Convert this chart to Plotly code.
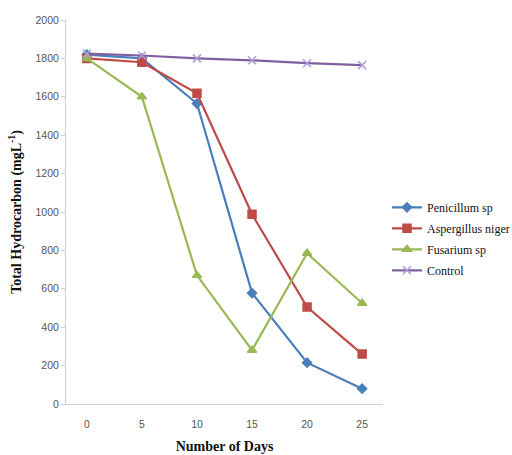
import plotly.graph_objects as go

days = ["0", "5", "10", "15", "20", "25"]
penicillium = [1820, 1800, 1565, 578, 215, 80]
aspergillus = [1800, 1780, 1618, 988, 505, 260]
fusarium = [1800, 1600, 670, 280, 785, 525]
control = [1825, 1815, 1800, 1790, 1775, 1765]
y_ticks = [0, 200, 400, 600, 800, 1000, 1200, 1400, 1600, 1800, 2000]

series = [
    ("Penicillum sp", penicillium, "#4a7ebb", "diamond", 7),
    ("Aspergillus niger", aspergillus, "#be4b48", "square", 8),
    ("Fusarium sp", fusarium, "#98b954", "triangle-up", 8),
    ("Control", control, "#7d60a0", "x-thin", 8),
]

serif = "Liberation Serif"

fig = go.Figure()
for name, vals, color, sym, size in series:
    fig.add_trace(go.Scatter(
        x=days, y=vals, name=name, mode="lines+markers", legendgroup=name,
        line=dict(color=color, width=2.2),
        marker=dict(symbol=sym, size=size, color=color,
                    line=dict(color="#a9a0d8" if sym == "x-thin" else color, width=1.5)),
    ))

fig.update_layout(
    width=512, height=455,
    margin=dict(l=66, r=129, t=20, b=51, autoexpand=False),
    paper_bgcolor="white", plot_bgcolor="white",
    font=dict(family=serif, size=12, color="#111"),
    showlegend=True,
    legend=dict(x=0.013, y=0.55, xanchor="left", yanchor="top", xref="paper",
                font=dict(family=serif, size=12, color="#111"),
                itemwidth=30, tracegroupgap=2, traceorder="grouped"),
    xaxis=dict(type="category", showgrid=False, showline=True, linecolor="#d0d0d0",
               linewidth=1, ticks="", ticklabelstandoff=10,
               tickfont=dict(family="Liberation Sans", size=10.5, color="#555"),
               title=dict(text="<b>Number of Days</b>", font=dict(family=serif, size=14, color="#111"),
                          standoff=12)),
    yaxis=dict(range=[0, 2000], tickvals=y_ticks, showgrid=False, showline=True, linecolor="#d0d0d0",
               linewidth=1, ticks="outside", ticklen=4, tickcolor="#d0d0d0",
               tickfont=dict(family="Liberation Sans", size=10.5, color="#555"),
               title=dict(text="<b>Total Hydrocarbon (mgL<sup>-1</sup>)</b>",
                          font=dict(family=serif, size=14, color="#111"), standoff=10)),
)
fig.update_layout(legend_x=1.0126)

fig.write_html("out.html")
